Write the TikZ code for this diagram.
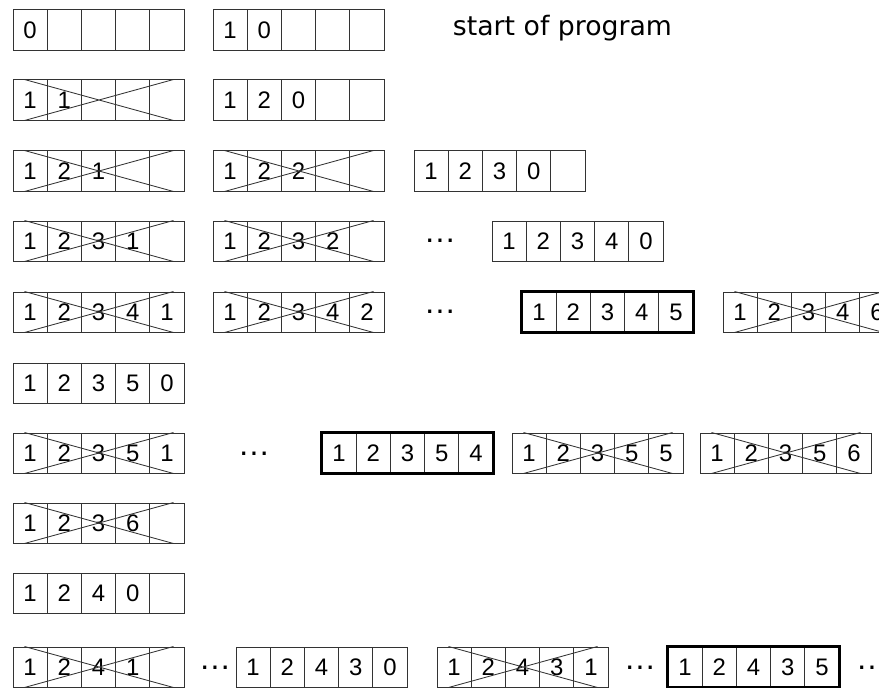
\documentclass[tikz,border=0pt]{standalone}
\usepackage{fontspec}
\setmainfont{Liberation Sans}
\newfontfamily\notefont{DejaVu Sans}
\usetikzlibrary{calc}

\tikzset{
  cell/.style={rectangle,draw=black!80,line width=0.7pt,
               minimum width=0.855cm,minimum height=1cm,inner sep=0pt,
               font=\fontsize{17}{19}\selectfont},
  xline/.style={draw=black!80,line width=0.6pt},
  boldbox/.style={draw=black,line width=2pt},
  dots/.style={inner sep=0pt,anchor=base,font=\fontsize{23}{25}\selectfont}
}

% one array of five slots: name, left x, top y, entries
\newcommand{\slots}[4]{%
  \foreach \v [count=\i] in {#4}
    \node[cell] (#1-\i) at ({#2+17.1+34.2*(\i-1)},{#3+20}) {\v};
}
\newcommand{\crossout}[1]{%
  \draw[xline] ($(#1-1.north west)+(12,0)$) -- ($(#1-5.south east)+(-11,0)$)
               ($(#1-1.south west)+(12,0)$) -- ($(#1-5.north east)+(-11,0)$);
}
\newcommand{\boldout}[1]{%
  \draw[boldbox] (#1-1.north west) rectangle (#1-5.south east);
}

\begin{document}
\begin{tikzpicture}[x=0.025cm,y=-0.025cm]
    \useasboundingbox (0,0) rectangle (879,688);
    % row 1
    \slots{r1a}{13}{10}{0,{},{},{},{}}
    \slots{r1b}{213}{10}{1,0,{},{},{}}
    \node[anchor=base west,font=\notefont\fontsize{19}{22}\selectfont]
         (start) at (448,36) {start of program};
    % row 2
    \slots{r2a}{13}{80}{1,1,{},{},{}}  \crossout{r2a}
    \slots{r2b}{213}{80}{1,2,0,{},{}}
    % row 3
    \slots{r3a}{13}{151}{1,2,1,{},{}}  \crossout{r3a}
    \slots{r3b}{213}{151}{1,2,2,{},{}} \crossout{r3b}
    \slots{r3c}{414}{151}{1,2,3,0,{}}
    % row 4
    \slots{r4a}{13}{221}{1,2,3,1,{}}  \crossout{r4a}
    \slots{r4b}{213}{221}{1,2,3,2,{}} \crossout{r4b}
    \node[dots] (d4) at (440,243) {…};
    \slots{r4c}{492}{221}{1,2,3,4,0}
    % row 5
    \slots{r5a}{13}{292}{1,2,3,4,1}  \crossout{r5a}
    \slots{r5b}{213}{292}{1,2,3,4,2} \crossout{r5b}
    \node[dots] (d5) at (440,314) {…};
    \slots{r5c}{522}{292}{1,2,3,4,5} \boldout{r5c}
    \slots{r5d}{723}{292}{1,2,3,4,6} \crossout{r5d}
    % row 6
    \slots{r6a}{13}{363}{1,2,3,5,0}
    % row 7
    \slots{r7a}{13}{433}{1,2,3,5,1}  \crossout{r7a}
    \node[dots] (d7) at (254,455) {…};
    \slots{r7b}{322}{433}{1,2,3,5,4} \boldout{r7b}
    \slots{r7c}{512}{433}{1,2,3,5,5} \crossout{r7c}
    \slots{r7d}{700}{433}{1,2,3,5,6} \crossout{r7d}
    % row 8
    \slots{r8a}{13}{503}{1,2,3,6,{}}  \crossout{r8a}
    % row 9
    \slots{r9a}{13}{573}{1,2,4,0,{}}
    % row 10
    \slots{r10a}{13}{647}{1,2,4,1,{}} \crossout{r10a}
    \node[dots] (d10a) at (215,669) {…};
    \slots{r10b}{236}{647}{1,2,4,3,0}
    \slots{r10c}{437}{647}{1,2,4,3,1} \crossout{r10c}
    \node[dots] (d10b) at (640,669) {…};
    \slots{r10d}{668}{647}{1,2,4,3,5} \boldout{r10d}
    \node[dots] (d10c) at (872,669) {…};
\end{tikzpicture}
\end{document}
